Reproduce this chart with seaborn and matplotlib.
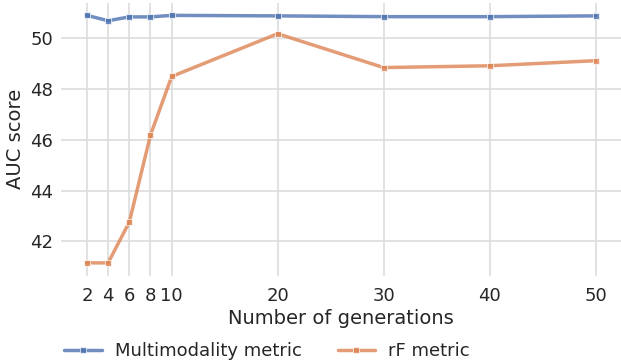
import matplotlib
matplotlib.use("Agg")
import matplotlib.pyplot as plt
import seaborn as sns
import pandas as pd

generations = [2, 4, 6, 8, 10, 20, 30, 40, 50]
multimodality = [50.88, 50.67, 50.82, 50.82, 50.88, 50.86, 50.83, 50.83, 50.86]
rf_metric = [41.16, 41.16, 42.76, 46.18, 48.48, 50.16, 48.83, 48.9, 49.1]
series_names = ["Multimodality metric", "rF metric"]

df = pd.DataFrame({
    "gen": generations * 2,
    "auc": multimodality + rf_metric,
    "metric": [series_names[0]] * len(generations) + [series_names[1]] * len(generations),
})

sns.set_theme(style="whitegrid", palette="deep")
plt.rcParams["font.family"] = ["DejaVu Sans"]

fig = plt.figure(figsize=(6.21, 3.62), dpi=100)
ax = fig.add_axes([0.099, 0.238, 0.901, 0.754])
sns.lineplot(data=df, x="gen", y="auc", hue="metric", marker="s", markersize=4,
             linewidth=2.5, alpha=0.8, markeredgecolor="white", markeredgewidth=0.6, ax=ax)
for s in ax.spines.values():
    s.set_visible(False)
ax.set_xticks(generations)
ax.set_xticklabels([str(g) for g in generations])
ax.tick_params(axis="x", labelsize=13, length=0, pad=8)
ax.tick_params(axis="y", labelsize=13, length=0, pad=6)
ax.set_xlabel("Number of generations", fontsize=14, labelpad=3)
ax.set_ylabel("AUC score", fontsize=14)
ax.grid(True, color="#dddddd", linewidth=1.2)
ax.set_xlim(-0.4, 52.4)
ax.set_ylim(40.65, 51.37)
leg = ax.legend(loc="center", bbox_to_anchor=(0.367, -0.275), ncol=2, frameon=False,
                fontsize=13, columnspacing=2.0, handlelength=2.1, handletextpad=0.7)
fig.savefig("out.png", dpi=100)
